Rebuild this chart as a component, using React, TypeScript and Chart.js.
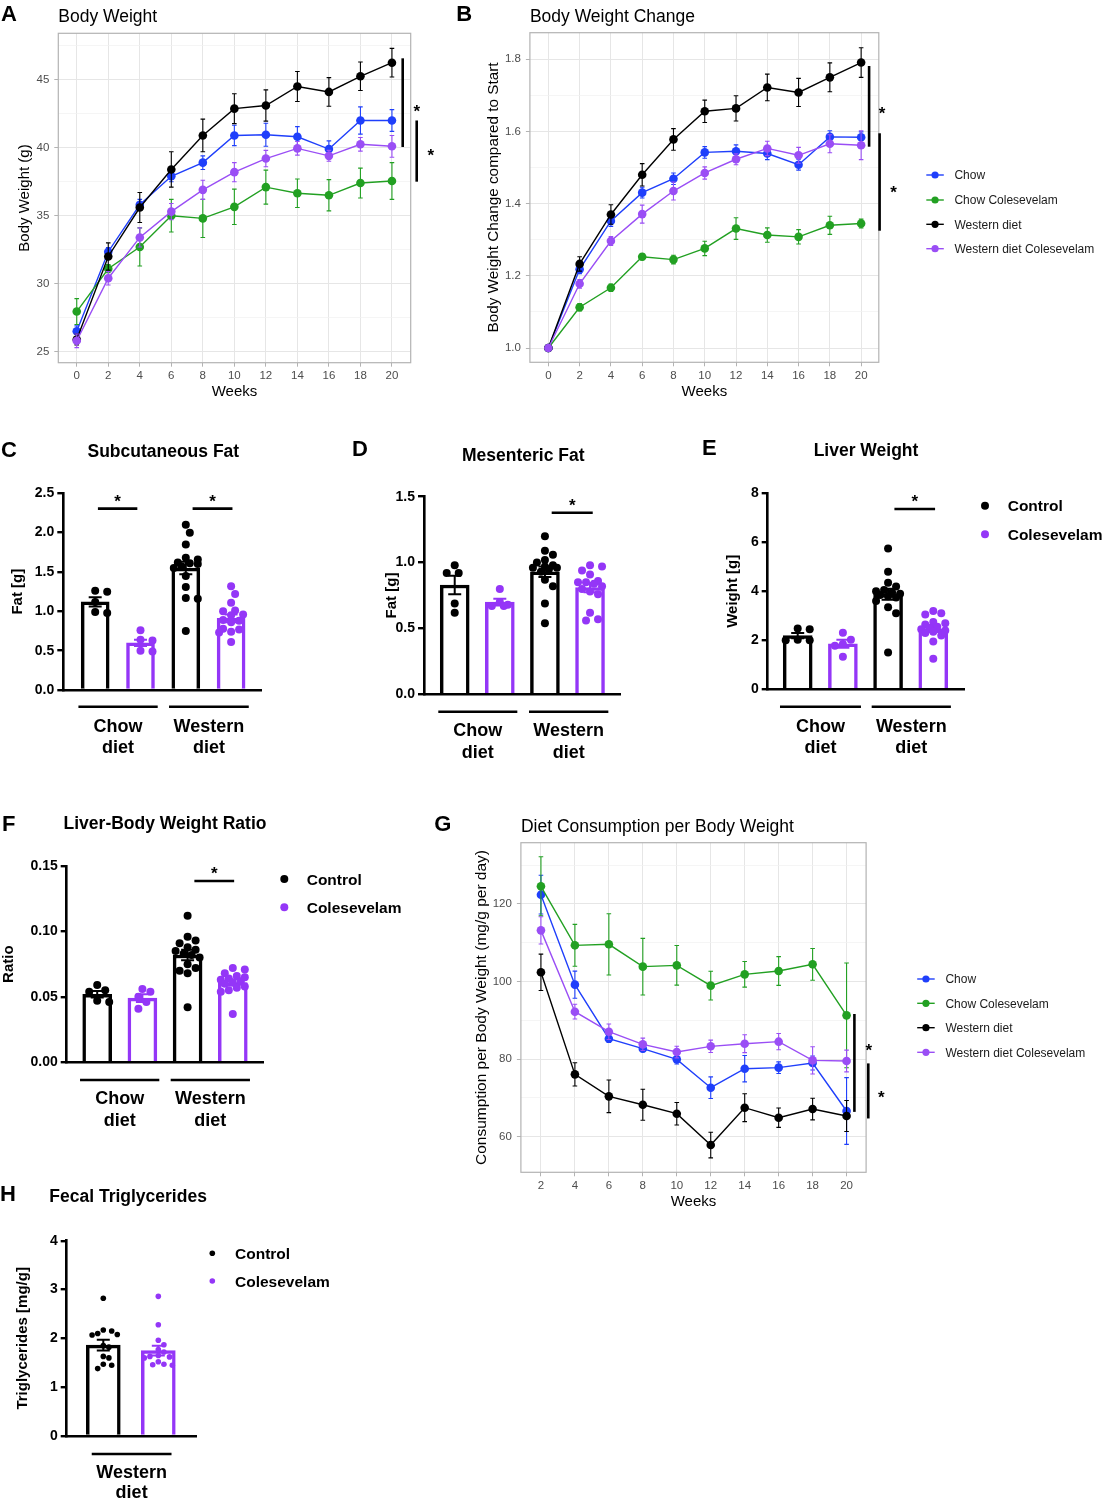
import React, { useEffect, useRef } from "react";
import { Chart, registerables } from "chart.js";

Chart.register(...registerables);

const FONT = "'Liberation Sans', Arial, Helvetica, sans-serif";
Chart.defaults.font.family = FONT;

// ---------------- data ----------------
const SERIES_LABELS = ["Chow", "Chow Colesevelam", "Western diet", "Western diet Colesevelam"];
const GROUP_LABELS = ["Control", "Colesevelam"];
const CAT_LABELS = [["Chow", "diet"], ["Western", "diet"]];

// A: Body weight (g)
const WEEKS = [0, 2, 4, 6, 8, 10, 12, 14, 16, 18, 20];
const BW_CHOW = [26.5, 32.35, 35.8, 37.9, 38.9, 40.9, 40.95, 40.8, 39.9, 42.0, 42.0];
const BW_CHOW_SE = [0.4, 0.3, 0.4, 0.4, 0.5, 0.75, 0.85, 0.75, 0.6, 1.0, 0.8];
const BW_CHOWCOL = [27.95, 31.1, 32.7, 35.0, 34.8, 35.65, 37.1, 36.65, 36.5, 37.4, 37.55];
const BW_CHOWCOL_SE = [0.95, 0.3, 1.4, 1.2, 1.4, 1.3, 1.25, 1.05, 1.15, 1.1, 1.35];
const BW_WD = [25.9, 32.0, 35.6, 38.4, 40.9, 42.87, 43.1, 44.5, 44.1, 45.25, 46.25];
const BW_WD_SE = [0.4, 1.0, 1.1, 1.3, 1.2, 1.1, 1.15, 1.1, 1.05, 1.05, 1.05];
const BW_WDCOL = [25.8, 30.4, 33.4, 35.3, 36.9, 38.2, 39.2, 39.95, 39.4, 40.25, 40.1];
const BW_WDCOL_SE = [0.5, 0.5, 0.7, 0.6, 0.7, 0.7, 0.6, 0.5, 0.4, 0.5, 0.8];
const A_X_TICKS = [0, 2, 4, 6, 8, 10, 12, 14, 16, 18, 20];
const A_Y_MAJOR = [25, 30, 35, 40, 45];
const A_Y_MINOR = [27.5, 32.5, 37.5, 42.5, 47.5];

// B: Body weight change
const BWC_CHOW = [1.0, 1.218, 1.352, 1.4305, 1.469, 1.542, 1.545, 1.539, 1.508, 1.585, 1.584];
const BWC_CHOW_SE = [0, 0.012, 0.015, 0.015, 0.016, 0.016, 0.018, 0.017, 0.015, 0.017, 0.015];
const BWC_CHOWCOL = [1.0, 1.113, 1.167, 1.253, 1.245, 1.276, 1.331, 1.313, 1.308, 1.34, 1.345];
const BWC_CHOWCOL_SE = [0, 0.01, 0.01, 0.008, 0.012, 0.02, 0.03, 0.02, 0.02, 0.025, 0.012];
const BWC_WD = [1.0, 1.233, 1.37, 1.48, 1.578, 1.656, 1.664, 1.722, 1.708, 1.75, 1.791];
const BWC_WD_SE = [0, 0.02, 0.027, 0.031, 0.03, 0.031, 0.035, 0.037, 0.039, 0.04, 0.041];
const BWC_WDCOL = [1.0, 1.178, 1.2965, 1.371, 1.435, 1.485, 1.523, 1.553, 1.534, 1.566, 1.562];
const BWC_WDCOL_SE = [0, 0.012, 0.012, 0.025, 0.025, 0.017, 0.015, 0.02, 0.022, 0.025, 0.04];
const B_Y_MAJOR = [1.0, 1.2, 1.4, 1.6, 1.8];
const B_Y_MINOR = [1.1, 1.3, 1.5, 1.7];

// G: Diet consumption per body weight
const WEEKS_G = [2, 4, 6, 8, 10, 12, 14, 16, 18, 20];
const DC_CHOW = [122.4, 99.2, 85.27, 82.69, 79.94, 72.63, 77.53, 77.8, 79.0, 66.62];
const DC_CHOW_SE = [5, 3.5, 1, 0.8, 1.2, 2.8, 3.4, 1.5, 1.8, 8.6];
const DC_CHOWCOL = [124.56, 109.34, 109.6, 103.84, 104.18, 98.94, 101.86, 102.72, 104.44, 91.29];
const DC_CHOWCOL_SE = [7.6, 5.4, 7.9, 7.3, 5.1, 3.7, 3.3, 3.7, 4.1, 13.5];
const DC_WD = [102.38, 76.07, 70.4, 68.25, 65.93, 57.85, 67.48, 64.9, 67.13, 65.33];
const DC_WD_SE = [4.7, 3.0, 4.2, 4.0, 2.9, 3.3, 3.6, 2.5, 2.8, 4.0];
const DC_WDCOL = [113.2, 92.23, 87.07, 83.81, 81.83, 83.3, 83.98, 84.5, 79.68, 79.51];
const DC_WDCOL_SE = [3.5, 1.9, 2.0, 1.6, 1.5, 1.6, 2.3, 2.1, 3.5, 2.8];
const G_X_TICKS = [2, 4, 6, 8, 10, 12, 14, 16, 18, 20];
const G_Y_MAJOR = [60, 80, 100, 120];
const G_Y_MINOR = [70, 90, 110, 130];

// C: Subcutaneous fat [g]  (Chow ctrl, Chow col, WD ctrl, WD col)
const SUBQ_MEAN = [1.12, 0.6, 1.55, 0.91];
const SUBQ_SEM = [0.06, 0.04, 0.08, 0.05];
const SUBQ_CHOW_CTRL = [1.26, 1.25, 1.12, 0.99, 0.98];
const SUBQ_CHOW_COL = [0.76, 0.64, 0.63, 0.5, 0.49];
const SUBQ_WD_CTRL = [2.1, 2.0, 1.85, 1.68, 1.66, 1.62, 1.61, 1.6, 1.57, 1.55, 1.45, 1.31, 1.17, 1.16, 0.75];
const SUBQ_WD_COL = [1.32, 1.22, 1.11, 1.01, 1.0, 0.96, 0.95, 0.89, 0.88, 0.86, 0.78, 0.77, 0.74, 0.73, 0.61];
const SUBQ_TICKS = [0, 0.5, 1.0, 1.5, 2.0, 2.5];

// D: Mesenteric fat [g]
const MES_MEAN = [0.83, 0.7, 0.93, 0.81];
const MES_SEM = [0.07, 0.025, 0.04, 0.035];
const MES_CHOW_CTRL = [0.98, 0.92, 0.92, 0.69, 0.62];
const MES_CHOW_COL = [0.8, 0.7, 0.68, 0.67, 0.67];
const MES_WD_CTRL = [1.2, 1.09, 1.06, 1.02, 1.0, 0.98, 0.97, 0.96, 0.96, 0.95, 0.93, 0.87, 0.82, 0.69, 0.54];
const MES_WD_COL = [0.98, 0.97, 0.94, 0.91, 0.86, 0.85, 0.85, 0.84, 0.82, 0.8, 0.78, 0.76, 0.62, 0.57, 0.56];
const MES_TICKS = [0, 0.5, 1.0, 1.5];

// E: Liver weight [g]
const LIV_MEAN = [2.19, 1.86, 3.88, 2.47];
const LIV_SEM = [0.11, 0.16, 0.22, 0.13];
const LIV_CHOW_CTRL = [2.48, 2.45, 2.02, 2.0, 2.0];
const LIV_CHOW_COL = [2.31, 2.02, 1.85, 1.78, 1.33];
const LIV_WD_CTRL = [5.75, 4.8, 4.35, 4.2, 4.05, 4.0, 3.95, 3.9, 3.85, 3.8, 3.75, 3.6, 3.35, 3.1, 1.5];
const LIV_WD_COL = [3.2, 3.1, 3.05, 2.75, 2.7, 2.65, 2.55, 2.5, 2.45, 2.4, 2.35, 2.3, 2.2, 1.95, 1.25];
const LIV_TICKS = [0, 2, 4, 6, 8];

// F: Liver-body weight ratio
const RAT_MEAN = [0.052, 0.049, 0.082, 0.061];
const RAT_SEM = [0.0025, 0.003, 0.004, 0.0023];
const RAT_CHOW_CTRL = [0.059, 0.055, 0.054, 0.047, 0.046];
const RAT_CHOW_COL = [0.056, 0.054, 0.05, 0.046, 0.041];
const RAT_WD_CTRL = [0.112, 0.096, 0.093, 0.091, 0.088, 0.086, 0.085, 0.083, 0.082, 0.08, 0.075, 0.072, 0.07, 0.068, 0.042];
const RAT_WD_COL = [0.072, 0.071, 0.068, 0.066, 0.065, 0.064, 0.063, 0.062, 0.061, 0.06, 0.058, 0.057, 0.055, 0.054, 0.037];
const RAT_TICKS = [0, 0.05, 0.1, 0.15];

// H: Fecal triglycerides [mg/g]
const TG_MEAN = [1.86, 1.75];
const TG_SEM = [0.11, 0.1];
const TG_WD_CTRL = [2.82, 2.17, 2.15, 2.1, 2.08, 2.07, 1.85, 1.82, 1.63, 1.6, 1.47, 1.45, 1.38];
const TG_WD_COL = [2.86, 2.28, 1.96, 1.87, 1.77, 1.72, 1.65, 1.63, 1.62, 1.6, 1.52, 1.47, 1.46, 1.45];
const TG_TICKS = [0, 1, 2, 3, 4];

// ---------------- styles ----------------
const LINE_COLORS = ["#1f3ffb", "#22a022", "#000000", "#9a4ef5"];
const BLACK = "#000000";
const PURPLE = "#9436f7";

type Rect = { x: number; y: number; w: number; h: number };
type TextItem = { t: string; x: number; y: number; font: string; color?: string; align?: CanvasTextAlign };

function drawTexts(ctx: CanvasRenderingContext2D, rect: Rect, texts: TextItem[]) {
  ctx.save();
  ctx.textBaseline = "alphabetic";
  for (const it of texts) {
    ctx.font = it.font;
    ctx.fillStyle = it.color || "#000";
    ctx.textAlign = it.align || "left";
    ctx.fillText(it.t, it.x - rect.x, it.y - rect.y);
  }
  ctx.restore();
}

function drawStar(ctx: CanvasRenderingContext2D, x: number, cy: number, size: number) {
  ctx.save();
  ctx.font = `bold ${size}px ${FONT}`;
  ctx.textAlign = "center";
  ctx.textBaseline = "alphabetic";
  ctx.fillStyle = "#000";
  ctx.fillText("*", x, cy + size * 0.58);
  ctx.restore();
}

// ---------------- line charts ----------------
function makeSeries(ys: number[][], ses: number[][]) {
  return SERIES_LABELS.map((label, i) => ({ label, color: LINE_COLORS[i], y: ys[i], se: ses[i] }));
}

function linePlugin(s: any) {
  return {
    id: "lineDeco",
    beforeDatasetDraw(chart: any, args: any) {
      const ds = chart.data.datasets[args.index];
      const ys = chart.scales.y;
      const ctx = chart.ctx;
      ctx.save();
      ctx.strokeStyle = ds.borderColor;
      ctx.lineWidth = 1.1;
      args.meta.data.forEach((pt: any, k: number) => {
        const e = ds.se[k];
        if (!e) return;
        const v = ds.data[k].y;
        const y1 = ys.getPixelForValue(v - e);
        const y2 = ys.getPixelForValue(v + e);
        ctx.beginPath();
        ctx.moveTo(pt.x, y1);
        ctx.lineTo(pt.x, y2);
        ctx.moveTo(pt.x - 2.3, y1);
        ctx.lineTo(pt.x + 2.3, y1);
        ctx.moveTo(pt.x - 2.3, y2);
        ctx.lineTo(pt.x + 2.3, y2);
        ctx.stroke();
      });
      ctx.restore();
    },
    afterDraw(chart: any) {
      const ctx = chart.ctx;
      const a = chart.chartArea;
      const ys = chart.scales.y;
      ctx.save();
      ctx.strokeStyle = "#b3b3b3";
      ctx.lineWidth = 1.2;
      ctx.strokeRect(a.left, a.top, a.right - a.left, a.bottom - a.top);
      ctx.strokeStyle = "#000";
      ctx.lineWidth = 2.6;
      for (const g of s.sigs) {
        const x = a.right + g.dx;
        const p1 = ys.getPixelForValue(g.y1);
        const p2 = ys.getPixelForValue(g.y2);
        ctx.beginPath();
        ctx.moveTo(x, p1);
        ctx.lineTo(x, p2);
        ctx.stroke();
        drawStar(ctx, x + g.sdx, (p1 + p2) / 2 + g.sdy, 17);
      }
      if (s.legend) {
        const L = s.legend;
        chart.data.datasets.forEach((ds: any, i: number) => {
          const y = L.ys[i] - s.rect.y;
          const x = L.x - s.rect.x;
          ctx.strokeStyle = ds.borderColor;
          ctx.lineWidth = 1.4;
          ctx.beginPath();
          ctx.moveTo(x, y);
          ctx.lineTo(x + 17.5, y);
          ctx.stroke();
          ctx.fillStyle = ds.borderColor;
          ctx.beginPath();
          ctx.arc(x + 8.75, y, 3.6, 0, Math.PI * 2);
          ctx.fill();
          ctx.fillStyle = "#1a1a1a";
          ctx.font = `${L.size}px ${FONT}`;
          ctx.textAlign = "left";
          ctx.textBaseline = "alphabetic";
          ctx.fillText(ds.label, L.tx - s.rect.x, y + L.size * 0.36);
        });
      }
      ctx.restore();
      drawTexts(ctx, s.rect, s.texts);
    },
  };
}

function lineConfig(s: any) {
  const lhY = s.yTitleSize * 1.2;
  const lhX = s.xTitleSize * 1.2;
  const YW = s.area.l - s.yTitleX + lhY / 2;
  const XH = s.xTitleY - s.area.b + lhX / 2;
  const padding = {
    left: s.area.l - s.rect.x - YW,
    top: s.area.t - s.rect.y,
    right: s.rect.x + s.rect.w - s.area.r,
    bottom: s.rect.y + s.rect.h - s.area.b - XH,
  };
  const major = new Set<number>(s.yMajor);
  const allY = [...s.yMajor, ...s.yMinor].sort((a: number, b: number) => a - b);
  const tickFont = { family: FONT, size: s.tickSize };
  const datasets = s.series.map((se: any, i: number) => ({
    label: se.label,
    data: s.x.map((x: number, k: number) => ({ x, y: se.y[k] })),
    se: se.se,
    borderColor: se.color,
    backgroundColor: se.color,
    pointBackgroundColor: se.color,
    pointBorderColor: se.color,
    pointBorderWidth: 0,
    pointRadius: 4.3,
    borderWidth: 1.4,
    tension: 0,
    order: s.series.length - 1 - i,
    clip: false,
  }));
  return {
    type: "line",
    data: { datasets },
    options: {
      responsive: false,
      animation: false,
      events: [],
      layout: { padding },
      plugins: { legend: { display: false }, tooltip: { enabled: false } },
      scales: {
        x: {
          type: "linear",
          min: s.xMin,
          max: s.xMax,
          afterBuildTicks: (sc: any) => {
            sc.ticks = s.xTicks.map((v: number) => ({ value: v }));
          },
          ticks: {
            autoSkip: false,
            maxRotation: 0,
            font: tickFont,
            color: "#4d4d4d",
            padding: 2.3,
            callback: (v: any) => String(v),
          },
          grid: { color: "#e6e6e6", lineWidth: 1, tickLength: 4, tickColor: "#b3b3b3", drawTicks: true },
          border: { display: false },
          title: { display: true, text: "Weeks", font: { family: FONT, size: s.xTitleSize }, color: "#000", padding: 0 },
          afterFit: (sc: any) => {
            sc.height = XH;
          },
        },
        y: {
          type: "linear",
          min: s.yMin,
          max: s.yMax,
          afterBuildTicks: (sc: any) => {
            sc.ticks = allY.map((v: number) => ({ value: v }));
          },
          ticks: {
            autoSkip: false,
            font: tickFont,
            color: "#4d4d4d",
            padding: 5,
            callback: (v: any) => (major.has(v) ? s.yFmt(v) : ""),
          },
          grid: {
            color: (c: any) => (c.tick && major.has(c.tick.value) ? "#e6e6e6" : "#f1f1f1"),
            lineWidth: (c: any) => (c.tick && major.has(c.tick.value) ? 1 : 0.7),
            tickColor: (c: any) => (c.tick && major.has(c.tick.value) ? "#b3b3b3" : "rgba(0,0,0,0)"),
            tickLength: 4,
          },
          border: { display: false },
          title: { display: true, text: s.yTitle, font: { family: FONT, size: s.yTitleSize }, color: "#000", padding: 0 },
          afterFit: (sc: any) => {
            sc.width = YW;
          },
        },
      },
    },
    plugins: [linePlugin(s)],
  };
}

// ---------------- bar charts ----------------
// deterministic beeswarm layout of the dots (pixel space -> x offsets in data units)
function swarm(vals: number[], yPx: number, xPx: number, diam: number, maxHalf: number): number[] {
  const order = vals.map((_, i) => i).sort((a, b) => vals[b] - vals[a]);
  const placed: { x: number; y: number }[] = [];
  const out: number[] = new Array(vals.length).fill(0);
  const step = diam * 0.5;
  const cands: number[] = [0];
  for (let k = 1; k * step <= maxHalf + 0.01; k++) cands.push(k * step, -k * step);
  for (const i of order) {
    const y = vals[i] * yPx;
    let best = 0;
    let bestD = -1;
    for (const c of cands) {
      let dmin = Infinity;
      for (const p of placed) dmin = Math.min(dmin, Math.hypot(p.x - c, p.y - y));
      if (dmin >= diam * 1.02) {
        best = c;
        break;
      }
      if (dmin > bestD) {
        bestD = dmin;
        best = c;
      }
    }
    placed.push({ x: best, y });
    out[i] = best / xPx;
  }
  return out;
}

function barPlugin(s: any) {
  return {
    id: "barDeco",
    afterDatasetDraw(chart: any, args: any) {
      if (args.meta.type !== "bar") return;
      const ys = chart.scales.y;
      const ctx = chart.ctx;
      ctx.save();
      ctx.lineWidth = 2;
      args.meta.data.forEach((el: any, k: number) => {
        const g = s.groups[k];
        const p1 = ys.getPixelForValue(g.mean - g.sem);
        const p2 = ys.getPixelForValue(g.mean + g.sem);
        ctx.strokeStyle = g.color;
        ctx.beginPath();
        ctx.moveTo(el.x, p1);
        ctx.lineTo(el.x, p2);
        ctx.moveTo(el.x - 6.5, p1);
        ctx.lineTo(el.x + 6.5, p1);
        ctx.moveTo(el.x - 6.5, p2);
        ctx.lineTo(el.x + 6.5, p2);
        ctx.stroke();
      });
      ctx.restore();
    },
    afterDraw(chart: any) {
      const ctx = chart.ctx;
      const a = chart.chartArea;
      const xs = chart.scales.x;
      const ys = chart.scales.y;
      ctx.save();
      ctx.strokeStyle = "#000";
      ctx.lineWidth = 2.6;
      for (const g of s.sigs) {
        const x1 = xs.getPixelForValue(g.x1);
        const x2 = xs.getPixelForValue(g.x2);
        const py = ys.getPixelForValue(g.y);
        ctx.beginPath();
        ctx.moveTo(x1, py);
        ctx.lineTo(x2, py);
        ctx.stroke();
        drawStar(ctx, (x1 + x2) / 2, py - 12, 17);
      }
      s.cats.forEach((c: any) => {
        const x1 = xs.getPixelForValue(c.x1);
        const x2 = xs.getPixelForValue(c.x2);
        const ly = a.bottom + s.catDy[0];
        ctx.strokeStyle = "#000";
        ctx.lineWidth = 2.6;
        ctx.beginPath();
        ctx.moveTo(x1, ly);
        ctx.lineTo(x2, ly);
        ctx.stroke();
        ctx.fillStyle = "#000";
        ctx.font = `bold 18px ${FONT}`;
        ctx.textAlign = "center";
        ctx.textBaseline = "alphabetic";
        ctx.fillText(c.lines[0], (x1 + x2) / 2, a.bottom + s.catDy[1]);
        ctx.fillText(c.lines[1], (x1 + x2) / 2, a.bottom + s.catDy[2]);
      });
      if (s.legend) {
        const L = s.legend;
        GROUP_LABELS.forEach((lab, i) => {
          const y = L.ys[i] - s.rect.y;
          ctx.fillStyle = i === 0 ? BLACK : PURPLE;
          ctx.beginPath();
          ctx.arc(L.x - s.rect.x, y, L.r, 0, Math.PI * 2);
          ctx.fill();
          ctx.fillStyle = "#000";
          ctx.font = `bold 15.5px ${FONT}`;
          ctx.textAlign = "left";
          ctx.textBaseline = "alphabetic";
          ctx.fillText(lab, L.tx - s.rect.x, y + 15.5 * 0.36);
        });
      }
      ctx.restore();
      drawTexts(ctx, s.rect, s.texts);
    },
  };
}

function barConfig(s: any) {
  const lhY = 15 * 1.2;
  const YW = s.area.l - s.yTitleX + lhY / 2;
  const XH = 2;
  const padding = {
    left: s.area.l - s.rect.x - YW,
    top: s.area.t - s.rect.y,
    right: s.rect.x + s.rect.w - s.area.r,
    bottom: s.rect.y + s.rect.h - s.area.b - XH,
  };
  const yPx = (s.area.b - s.area.t) / s.yMax;
  const xPx = (s.area.r - s.area.l) / (s.xMax - s.xMin);
  const barDs = {
    type: "bar",
    data: s.groups.map((g: any) => ({ x: g.x, y: g.mean })),
    backgroundColor: "#ffffff",
    borderColor: s.groups.map((g: any) => g.color),
    borderWidth: 3.5,
    barThickness: s.barW,
    order: 2,
  };
  const dotDs = s.groups.map((g: any) => {
    const offs = swarm(g.dots, yPx, xPx, s.dotR * 2, s.barW / 2);
    return {
      type: "scatter",
      data: g.dots.map((v: number, k: number) => ({ x: g.x + offs[k], y: v })),
      pointRadius: s.dotR,
      pointBackgroundColor: g.color,
      pointBorderColor: g.color,
      pointBorderWidth: 0,
      order: 0,
      clip: false,
    };
  });
  return {
    type: "bar",
    data: { datasets: [barDs, ...dotDs] },
    options: {
      responsive: false,
      animation: false,
      events: [],
      layout: { padding },
      plugins: { legend: { display: false }, tooltip: { enabled: false } },
      scales: {
        x: {
          type: "linear",
          min: s.xMin,
          max: s.xMax,
          offset: false,
          grid: { display: false },
          ticks: { display: false },
          border: { display: true, color: "#000", width: 2.6 },
          afterFit: (sc: any) => {
            sc.height = XH;
          },
        },
        y: {
          type: "linear",
          min: 0,
          max: s.yMax,
          afterBuildTicks: (sc: any) => {
            sc.ticks = s.yTicks.map((v: number) => ({ value: v }));
          },
          ticks: {
            autoSkip: false,
            font: { family: FONT, size: 14, weight: "bold" },
            color: "#000",
            padding: 3,
            callback: (v: any) => s.yFmt(v),
          },
          grid: { drawOnChartArea: false, drawTicks: true, tickLength: 6, color: "#000", lineWidth: 2.4 },
          border: { display: true, color: "#000", width: 2.6 },
          title: { display: true, text: s.yTitle, font: { family: FONT, size: 15, weight: "bold" }, color: "#000", padding: 0 },
          afterFit: (sc: any) => {
            sc.width = YW;
          },
        },
      },
    },
    plugins: [barPlugin(s)],
  };
}

function fourGroups(means: number[], sems: number[], dots: number[][]) {
  const colors = [BLACK, PURPLE, BLACK, PURPLE];
  return means.map((m, i) => ({ x: i, mean: m, sem: sems[i], dots: dots[i], color: colors[i] }));
}

const LETTER = `bold 22px ${FONT}`;
const BTITLE = `bold 17.5px ${FONT}`;
const GTITLE = `17.5px ${FONT}`;

// ---------------- panel specs ----------------
const A_SPEC = {
  rect: { x: 0, y: 0, w: 450, h: 410 },
  area: { l: 58.3, t: 33.3, r: 410.7, b: 362.7 },
  x: WEEKS,
  xMin: -1.17,
  xMax: 21.19,
  xTicks: A_X_TICKS,
  yMin: 24.19,
  yMax: 48.41,
  yMajor: A_Y_MAJOR,
  yMinor: A_Y_MINOR,
  yFmt: (v: number) => String(v),
  series: makeSeries([BW_CHOW, BW_CHOWCOL, BW_WD, BW_WDCOL], [BW_CHOW_SE, BW_CHOWCOL_SE, BW_WD_SE, BW_WDCOL_SE]),
  yTitle: "Body Weight (g)",
  yTitleX: 25,
  xTitleY: 392,
  xTitleSize: 15,
  yTitleSize: 15,
  tickSize: 11.5,
  sigs: [
    { dx: -8, y1: 40.05, y2: 46.57, sdx: 14, sdy: 4 },
    { dx: 6, y1: 37.5, y2: 42.0, sdx: 14, sdy: 0 },
  ],
  texts: [
    { t: "A", x: 1, y: 21, font: LETTER },
    { t: "Body Weight", x: 58.3, y: 22, font: GTITLE },
  ],
};

const B_SPEC = {
  rect: { x: 450, y: 0, w: 659, h: 410 },
  area: { l: 529.9, t: 32.7, r: 878.8, b: 362.3 },
  x: WEEKS,
  xMin: -1.18,
  xMax: 21.13,
  xTicks: A_X_TICKS,
  yMin: 0.9604,
  yMax: 1.8737,
  yMajor: B_Y_MAJOR,
  yMinor: B_Y_MINOR,
  yFmt: (v: number) => v.toFixed(1),
  series: makeSeries([BWC_CHOW, BWC_CHOWCOL, BWC_WD, BWC_WDCOL], [BWC_CHOW_SE, BWC_CHOWCOL_SE, BWC_WD_SE, BWC_WDCOL_SE]),
  yTitle: "Body Weight Change compared to Start",
  yTitleX: 493.3,
  xTitleY: 392,
  xTitleSize: 15,
  yTitleSize: 15.3,
  tickSize: 11.5,
  sigs: [
    { dx: -9.7, y1: 1.5578, y2: 1.7814, sdx: 13, sdy: 2.7 },
    { dx: 0.8, y1: 1.325, y2: 1.595, sdx: 13.9, sdy: 6 },
  ],
  legend: { x: 926.3, ys: [175, 200, 224.3, 248.7], tx: 954.4, size: 12 },
  texts: [
    { t: "B", x: 456.3, y: 21, font: LETTER },
    { t: "Body Weight Change", x: 529.9, y: 22, font: GTITLE },
  ],
};

const G_SPEC = {
  rect: { x: 430, y: 800, w: 679, h: 420 },
  area: { l: 520.9, t: 842.7, r: 866.1, b: 1172.3 },
  x: WEEKS_G,
  xMin: 0.82,
  xMax: 21.15,
  xTicks: G_X_TICKS,
  yMin: 50.82,
  yMax: 135.8,
  yMajor: G_Y_MAJOR,
  yMinor: G_Y_MINOR,
  yFmt: (v: number) => String(v),
  series: makeSeries([DC_CHOW, DC_CHOWCOL, DC_WD, DC_WDCOL], [DC_CHOW_SE, DC_CHOWCOL_SE, DC_WD_SE, DC_WDCOL_SE]),
  yTitle: "Consumption per Body Weight (mg/g per day)",
  yTitleX: 482,
  xTitleY: 1201.7,
  xTitleSize: 15,
  yTitleSize: 15.5,
  tickSize: 11.5,
  sigs: [
    { dx: -11.7, y1: 66.4, y2: 91.64, sdx: 14.3, sdy: -17 },
    { dx: 2.2, y1: 64.7, y2: 78.9, sdx: 13, sdy: 2.5 },
  ],
  legend: { x: 917.2, ys: [979, 1003.3, 1027.7, 1052.3], tx: 945.4, size: 12 },
  texts: [
    { t: "G", x: 434.3, y: 830.7, font: LETTER },
    { t: "Diet Consumption per Body Weight", x: 520.9, y: 831.7, font: GTITLE },
  ],
};

const C_SPEC = {
  rect: { x: 0, y: 430, w: 350, h: 340 },
  area: { l: 63.3, t: 493.3, r: 261, b: 690 },
  xMin: -0.704,
  xMax: 3.66,
  yMax: 2.5,
  yTicks: SUBQ_TICKS,
  yFmt: (v: number) => v.toFixed(1),
  yTitle: "Fat [g]",
  yTitleX: 18.3,
  groups: fourGroups(SUBQ_MEAN, SUBQ_SEM, [SUBQ_CHOW_CTRL, SUBQ_CHOW_COL, SUBQ_WD_CTRL, SUBQ_WD_COL]),
  barW: 28,
  dotR: 4,
  sigs: [
    { x1: 0.06, x2: 0.93, y: 2.305 },
    { x1: 2.15, x2: 3.03, y: 2.305 },
  ],
  cats: [
    { x1: -0.37, x2: 1.38, lines: CAT_LABELS[0] },
    { x1: 1.63, x2: 3.39, lines: CAT_LABELS[1] },
  ],
  catDy: [16.7, 41.7, 63.3],
  texts: [
    { t: "C", x: 1, y: 457, font: LETTER },
    { t: "Subcutaneous Fat", x: 163.3, y: 456.5, font: BTITLE, align: "center" as CanvasTextAlign },
  ],
};

const D_SPEC = {
  rect: { x: 350, y: 430, w: 350, h: 340 },
  area: { l: 424, t: 496.7, r: 620.7, b: 694.3 },
  xMin: -0.681,
  xMax: 3.68,
  yMax: 1.5,
  yTicks: MES_TICKS,
  yFmt: (v: number) => v.toFixed(1),
  yTitle: "Fat [g]",
  yTitleX: 391.7,
  groups: fourGroups(MES_MEAN, MES_SEM, [MES_CHOW_CTRL, MES_CHOW_COL, MES_WD_CTRL, MES_WD_COL]),
  barW: 29,
  dotR: 4,
  sigs: [{ x1: 2.15, x2: 3.06, y: 1.378 }],
  cats: [
    { x1: -0.364, x2: 1.388, lines: CAT_LABELS[0] },
    { x1: 1.647, x2: 3.406, lines: CAT_LABELS[1] },
  ],
  catDy: [17.4, 41.7, 64],
  texts: [
    { t: "D", x: 352, y: 455.7, font: LETTER },
    { t: "Mesenteric Fat", x: 523.3, y: 460.7, font: BTITLE, align: "center" as CanvasTextAlign },
  ],
};

const E_SPEC = {
  rect: { x: 700, y: 430, w: 409, h: 340 },
  area: { l: 767.7, t: 493.3, r: 964, b: 689.3 },
  xMin: -0.664,
  xMax: 3.68,
  yMax: 8,
  yTicks: LIV_TICKS,
  yFmt: (v: number) => String(v),
  yTitle: "Weight [g]",
  yTitleX: 733.3,
  groups: fourGroups(LIV_MEAN, LIV_SEM, [LIV_CHOW_CTRL, LIV_CHOW_COL, LIV_WD_CTRL, LIV_WD_COL]),
  barW: 29,
  dotR: 4,
  sigs: [{ x1: 2.14, x2: 3.04, y: 7.36 }],
  cats: [
    { x1: -0.392, x2: 1.4, lines: CAT_LABELS[0] },
    { x1: 1.637, x2: 3.39, lines: CAT_LABELS[1] },
  ],
  catDy: [17.4, 42.4, 64],
  legend: { x: 985, ys: [505.7, 534.3], tx: 1007.7, r: 4 },
  texts: [
    { t: "E", x: 702, y: 455, font: LETTER },
    { t: "Liver Weight", x: 866, y: 456, font: BTITLE, align: "center" as CanvasTextAlign },
  ],
};

const F_SPEC = {
  rect: { x: 0, y: 800, w: 430, h: 340 },
  area: { l: 66.7, t: 866, r: 263.3, b: 1062.3 },
  xMin: -0.675,
  xMax: 3.675,
  yMax: 0.15,
  yTicks: RAT_TICKS,
  yFmt: (v: number) => v.toFixed(2),
  yTitle: "Ratio",
  yTitleX: 9,
  groups: fourGroups(RAT_MEAN, RAT_SEM, [RAT_CHOW_CTRL, RAT_CHOW_COL, RAT_WD_CTRL, RAT_WD_COL]),
  barW: 29,
  dotR: 4,
  sigs: [{ x1: 2.15, x2: 3.03, y: 0.1385 }],
  cats: [
    { x1: -0.38, x2: 1.374, lines: CAT_LABELS[0] },
    { x1: 1.626, x2: 3.38, lines: CAT_LABELS[1] },
  ],
  catDy: [17.7, 41.7, 63.7],
  legend: { x: 284.3, ys: [879, 907.3], tx: 306.7, r: 4 },
  texts: [
    { t: "F", x: 2, y: 830.7, font: LETTER },
    { t: "Liver-Body Weight Ratio", x: 165, y: 829.3, font: BTITLE, align: "center" as CanvasTextAlign },
  ],
};

const H_SPEC = {
  rect: { x: 0, y: 1170, w: 350, h: 330 },
  area: { l: 66.7, t: 1240.7, r: 196, b: 1436 },
  xMin: -0.665,
  xMax: 1.685,
  yMax: 4,
  yTicks: TG_TICKS,
  yFmt: (v: number) => String(v),
  yTitle: "Triglycerides [mg/g]",
  yTitleX: 23.3,
  groups: [
    { x: 0, mean: TG_MEAN[0], sem: TG_SEM[0], dots: TG_WD_CTRL, color: BLACK },
    { x: 1, mean: TG_MEAN[1], sem: TG_SEM[1], dots: TG_WD_COL, color: PURPLE },
  ],
  barW: 34,
  dotR: 2.8,
  sigs: [],
  cats: [{ x1: -0.21, x2: 1.24, lines: CAT_LABELS[1] }],
  catDy: [18, 42.3, 62.3],
  legend: { x: 212.3, ys: [1253.3, 1281], tx: 235, r: 2.8 },
  texts: [
    { t: "H", x: 0, y: 1200.7, font: LETTER },
    { t: "Fecal Triglycerides", x: 49.3, y: 1201.7, font: BTITLE },
  ],
};

const PANELS = [
  { rect: A_SPEC.rect, make: () => lineConfig(A_SPEC) },
  { rect: B_SPEC.rect, make: () => lineConfig(B_SPEC) },
  { rect: C_SPEC.rect, make: () => barConfig(C_SPEC) },
  { rect: D_SPEC.rect, make: () => barConfig(D_SPEC) },
  { rect: E_SPEC.rect, make: () => barConfig(E_SPEC) },
  { rect: F_SPEC.rect, make: () => barConfig(F_SPEC) },
  { rect: G_SPEC.rect, make: () => lineConfig(G_SPEC) },
  { rect: H_SPEC.rect, make: () => barConfig(H_SPEC) },
];

function Panel({ rect, make }: { rect: Rect; make: () => any }) {
  const ref = useRef<HTMLCanvasElement>(null);
  useEffect(() => {
    const chart = new Chart(ref.current as HTMLCanvasElement, make());
    return () => chart.destroy();
  }, []);
  return (
    <canvas
      ref={ref}
      width={rect.w}
      height={rect.h}
      style={{ position: "absolute", left: rect.x, top: rect.y, width: rect.w, height: rect.h }}
    />
  );
}

export default function App() {
  return (
    <div
      style={{
        position: "absolute",
        left: 0,
        top: 0,
        width: 1109,
        height: 1500,
        background: "#ffffff",
        overflow: "hidden",
      }}
    >
      {PANELS.map((p, i) => (
        <Panel key={i} rect={p.rect} make={p.make} />
      ))}
    </div>
  );
}
